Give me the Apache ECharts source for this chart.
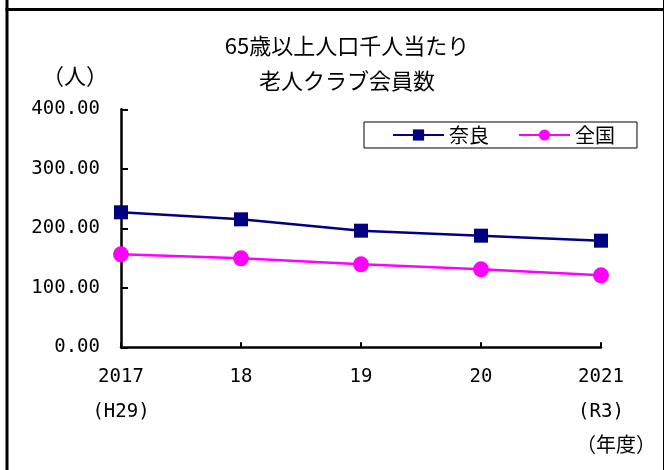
<!DOCTYPE html>
<html>
<head>
<meta charset="utf-8">
<script src="https://cdn.jsdelivr.net/npm/echarts@6/dist/echarts.min.js"></script>
<style>
  html, body { margin: 0; padding: 0; background: #fff; }
  #root { width: 664px; height: 470px; }
</style>
</head>
<body>
<div id="root"></div>
<script>
// data
var years = ['2017\n(H29)', '18', '19', '20', '2021\n(R3)'];
var nara = [226.9, 215.1, 196.0, 187.6, 179.2];
var zenkoku = [156.3, 149.6, 139.5, 131.1, 121.0];
var yTicks = [0, 100, 200, 300, 400];

var monoFont = '"DejaVu Sans Mono", "Noto Sans CJK JP", monospace';
var jpFont = '"Noto Sans CJK JP", sans-serif';

var chart = echarts.init(document.getElementById('root'));

var option = {
    backgroundColor: '#fff',
    animation: false,
    title: {
        text: '65歳以上人口千人当たり\n老人クラブ会員数',
        left: 347,
        top: 28,
        padding: 0,
        textAlign: 'center',
        textStyle: {
            fontFamily: jpFont,
            fontSize: 22,
            fontWeight: 'normal',
            lineHeight: 35,
            color: '#000'
        }
    },
    legend: {
        left: 364,
        top: 122,
        padding: [3, 22, 3, 28],
        itemGap: 29,
        itemWidth: 51,
        itemHeight: 14,
        borderColor: '#000',
        borderWidth: 1,
        borderRadius: 0,
        textStyle: { fontFamily: jpFont, fontSize: 20, color: '#000' },
        data: ['奈良', '全国']
    },
    grid: {
        left: 121,
        right: 63,
        top: 109.3,
        bottom: 122.7
    },
    xAxis: {
        type: 'category',
        data: years,
        boundaryGap: false,
        axisLine: { lineStyle: { color: '#000', width: 2.5 } },
        axisTick: { inside: true, length: 5, lineStyle: { color: '#000', width: 2 } },
        axisLabel: {
            color: '#000',
            fontFamily: monoFont,
            fontSize: 19,
            lineHeight: 35,
            margin: 12,
            interval: 0
        },
        splitLine: { show: false }
    },
    yAxis: {
        type: 'value',
        min: yTicks[0],
        max: yTicks[yTicks.length - 1],
        interval: 100,
        axisLine: { show: true, lineStyle: { color: '#000', width: 2.5 } },
        axisTick: { show: true, inside: true, length: 7, lineStyle: { color: '#000', width: 2 } },
        axisLabel: {
            color: '#000',
            fontFamily: monoFont,
            fontSize: 19,
            margin: 21,
            formatter: function (v) { return v.toFixed(2); }
        },
        splitLine: { show: false }
    },
    series: [
        {
            name: '奈良',
            type: 'line',
            data: nara,
            symbol: 'rect',
            symbolSize: 14,
            color: '#000080',
            lineStyle: { color: '#000080', width: 2.5 },
            itemStyle: { color: '#000080' },
            z: 3
        },
        {
            name: '全国',
            type: 'line',
            data: zenkoku,
            symbol: 'circle',
            symbolSize: 16,
            color: '#ff00ff',
            lineStyle: { color: '#ff00ff', width: 2.5 },
            itemStyle: { color: '#ff00ff' },
            z: 2
        }
    ],
    graphic: [
        // frame around the chart area
        { type: 'line', shape: { x1: 7, y1: 0, x2: 7, y2: 470 }, style: { stroke: '#000', lineWidth: 3 } },
        { type: 'line', shape: { x1: 5.5, y1: 9.5, x2: 664, y2: 9.5 }, style: { stroke: '#000', lineWidth: 3 } },
        { type: 'line', shape: { x1: 663.5, y1: 0, x2: 663.5, y2: 470 }, style: { stroke: '#000', lineWidth: 1 } },
        // unit labels
        {
            type: 'text', left: 42, top: 65,
            style: { text: '（人）', fontFamily: jpFont, fontSize: 22, fill: '#000' }
        },
        {
            type: 'text', right: 8, top: 434,
            style: { text: '（年度）', fontFamily: jpFont, fontSize: 20, fill: '#000' }
        }
    ]
};

chart.setOption(option);
</script>
</body>
</html>
